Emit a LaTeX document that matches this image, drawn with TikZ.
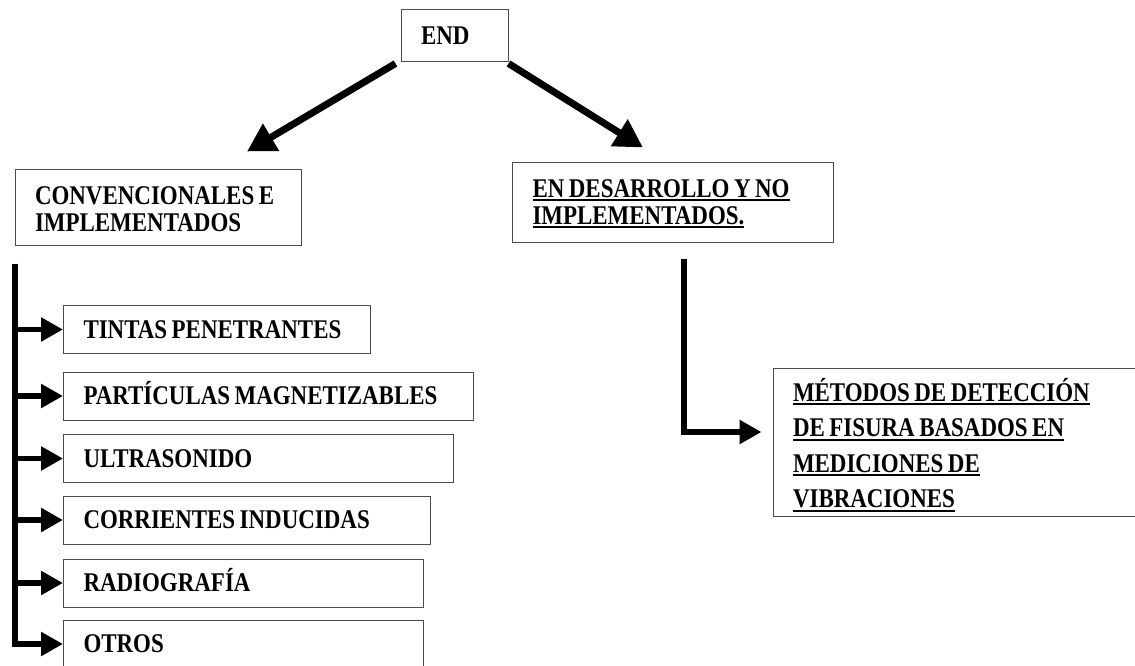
\documentclass[tikz,border=0pt]{standalone}
\usepackage{fontspec}
\setmainfont[FakeStretch=0.85]{Liberation Serif}
\usetikzlibrary{arrows.meta}
\newsavebox{\ulsave}
\newcommand{\undertext}[1]{\leavevmode\sbox{\ulsave}{#1}\rlap{\rule[-4pt]{\wd\ulsave}{1.8pt}}\usebox{\ulsave}}
\newcommand{\tightspace}{\spaceskip=4.5pt plus 1pt\relax}

\begin{document}
\begin{tikzpicture}[x=1pt, y=-1pt,
	box/.style={draw=black!70, line width=1pt, align=flush left, inner xsep=20pt, inner ysep=0pt,
		font=\bfseries\fontsize{27}{28}\selectfont\tightspace},
	listbox/.style={box, anchor=west, text width=#1, minimum height=48pt, text height=17pt, text depth=0pt,
		execute at begin node=\hbox\bgroup, execute at end node=\egroup},
	bigarrow/.style={line width=7pt, -{Triangle[length=28pt,width=30pt]}},
	branch/.style={line width=5.5pt, -{Triangle[length=22pt,width=23pt]}}]

\clip (0, 0) rectangle (1135, 666);

% top of the tree
\node[box, text width=67pt, minimum height=52pt, text height=17pt, text depth=0pt] (end) at (454.5, 36) {END};
\node[box, text width=246pt, minimum height=76pt, text height=17pt, text depth=23pt] (conv) at (158, 207)
	{\mbox{CONVENCIONALES E}\\\mbox{IMPLEMENTADOS}};
\node[box, text width=281pt, minimum height=80pt, text height=17pt, text depth=27pt,
	font=\bfseries\fontsize{27}{27}\selectfont\tightspace] (desarrollo) at (673, 202)
	{\undertext{EN DESARROLLO Y NO}\\\undertext{IMPLEMENTADOS.}};

\draw[bigarrow] ([xshift=-59pt, yshift=-1pt]end.south) -- ([xshift=89pt, yshift=17pt]conv.north);
\draw[bigarrow] ([xshift=54pt, yshift=-1pt]end.south) -- ([xshift=-30pt, yshift=14pt]desarrollo.north);

% conventional methods
\node[listbox=267pt] (tintas) at (63, 329.5) {TINTAS PENETRANTES};
\node[listbox=370pt] (particulas) at (63, 396) {PARTÍCULAS MAGNETIZABLES};
\node[listbox=350pt] (ultrasonido) at (63, 458.5) {ULTRASONIDO};
\node[listbox=327pt] (corrientes) at (63, 520) {CORRIENTES INDUCIDAS};
\node[listbox=320pt] (radiografia) at (63, 583) {RADIOGRAFÍA};
\node[listbox=320pt] (otros) at (63, 644) {OTROS};

\coordinate (lefttrunk) at ([xshift=0.5pt, yshift=-18pt]conv.south west);
\draw[branch] (lefttrunk) |- (otros.west);
\foreach \item in {tintas, particulas, ultrasonido, corrientes, radiografia}
\draw[branch] (lefttrunk |- \item.west) -- (\item.west);

% methods in development
\node[box, text width=330pt, minimum height=148pt, text height=17pt, text depth=99pt,
	font=\bfseries\fontsize{27}{35.5}\selectfont\tightspace] (metodos) at (958, 442)
	{\undertext{MÉTODOS DE DETECCIÓN}\\\undertext{DE FISURA BASADOS EN}\\
	\undertext{MEDICIONES DE}\\\undertext{VIBRACIONES}};

\coordinate (righttrunk) at ([xshift=11pt, yshift=-16pt]desarrollo.south);
\draw[branch, line width=6pt] (righttrunk) |- ([xshift=-11pt, yshift=10pt]metodos.west);

\end{tikzpicture}
\end{document}
